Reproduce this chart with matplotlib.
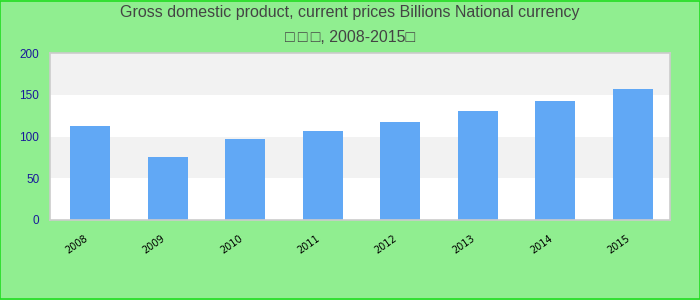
import matplotlib
matplotlib.use("Agg")
import matplotlib.pyplot as plt
from matplotlib.patches import Rectangle

years = ["2008", "2009", "2010", "2011", "2012", "2013", "2014", "2015"]
gdp = [112.8, 75.6, 97.2, 106.8, 117.6, 130.8, 142.8, 157.2]
yticks = [0, 50, 100, 150, 200]
title = "Gross domestic product, current prices Billions National currency\n\u25a1\u2009\u25a1\u2009\u25a1, 2008-2015\u25a1"

plt.rcParams['font.family'] = ['Liberation Sans', 'DejaVu Sans']

fig = plt.figure(figsize=(7, 3), dpi=100)
fig.patch.set_facecolor('#90EE90')
fig.patches.append(Rectangle((0.0007, 0.0017), 0.9986, 0.9966, transform=fig.transFigure,
                             fill=False, edgecolor='#22dd22', linewidth=1.2))

ax = fig.add_axes([50/700, 80/300, 620/700, 166.7/300])
ax.set_facecolor('white')
for lo in (50, 150):
    ax.axhspan(lo, lo + 50, color='#f2f2f2', zorder=0, lw=0)

x = list(range(len(years)))
ax.bar(x, gdp, width=0.516, color='#61A8F5', zorder=2)
ax.set_xlim(-0.52, 7.48)
ax.set_ylim(0, 200)
ax.set_yticks(yticks)
ax.set_yticklabels([str(v) for v in yticks], color='#1a1a9a', fontsize=8.5)
ax.set_xticks(x)
ax.set_xticklabels([])
for xi, yr in zip(x, years):
    ax.annotate(yr, xy=(xi, 0), xycoords=ax.get_xaxis_transform(),
                xytext=(-5, -9.5), textcoords='offset points',
                rotation=35, ha='right', va='top', rotation_mode='anchor',
                fontsize=7, color='black', family=['DejaVu Sans'], annotation_clip=False)
ax.tick_params(axis='y', length=0, pad=7.7)
ax.tick_params(axis='x', length=0)
for s in ax.spines.values():
    s.set_color('#cccccc')
    s.set_linewidth(1.2)

fig.text(0.5, 0.985, title, ha='center', va='top', fontsize=11.5, color='#444444', linespacing=1.9)

fig.savefig('out.png', dpi=100, facecolor=fig.get_facecolor())
